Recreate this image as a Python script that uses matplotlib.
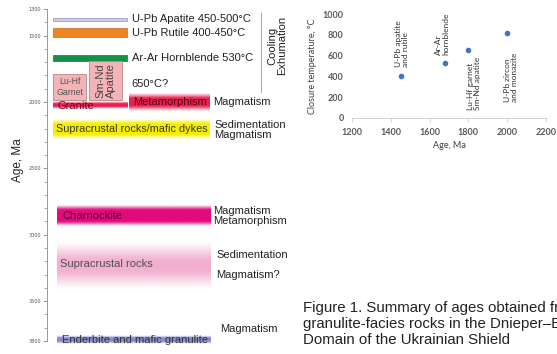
import numpy as np
import matplotlib
matplotlib.use("Agg")
import matplotlib.pyplot as plt
from matplotlib.colors import to_rgb
from matplotlib.patches import Rectangle

# ---- left panel: age chart (Ma) ----
cool_names = ["U-Pb Apatite 450-500°C", "U-Pb Rutile 400-450°C", "Ar-Ar Hornblende 530°C"]
cool_top = [1365, 1443, 1646]
cool_bot = [1392, 1511, 1692]
cool_colors = ["#cfcdeb", "#ef8522", "#14924a"]
cool_edges = ["#8f8fb5", "#c86a10", "#0c7a3a"]

box_names = ["Lu-Hf\nGarnet", "Sm-Nd\nApatite"]
box_top = [1789, 1692]
box_bot = [1985, 1985]

band_names = ["Granite", "Metamorphism", "Supracrustal rocks/mafic dykes",
              "Charnockite", "Supracrustal rocks", "Enderbite and mafic granulite"]
band_top = [1993, 1925, 2121, 2776, 3039, 3762]
band_bot = [2053, 2075, 2286, 2942, 3431, 3823]
band_colors = ["#e8204f", "#e8204f", "#f6ee00", "#e20a7c", "#f0a2c8", "#7c7ccc"]
band_text_colors = ["#7a0020", "#5c0018", "#3a3a10", "#4a0030", "#505050", "#333333"]

event_text = ["Magmatism", "Sedimentation\nMagmatism", "Magmatism\nMetamorphism",
              "Sedimentation\n\nMagmatism?", "Magmatism"]
event_age = [2000, 2211, 2858, 3228, 3710]

yticks_left = [1300, 1500, 2000, 2500, 3000, 3500, 3800]

# ---- right panel: closure temperature ----
ages = [1450, 1680, 1800, 2000]
temps = [400, 530, 650, 820]
point_labels = ["U-Pb apatite\nand rutile", "Ar-Ar\nhornblende",
                "Lu-Hf garnet\nSm-Nd apatite", "U-Pb zircon\nand monazite"]

fig = plt.figure(figsize=(5.57, 3.54), dpi=100)
fig.patch.set_facecolor("white")
lfont = "Liberation Sans"
fs = 8


def band(ax, x0, x1, top, bot, color, soft=0.6, peak=1.0):
    t = np.linspace(-1, 1, 80)
    a = np.clip((1 - np.abs(t)) / soft, 0, 1)
    a = peak * (a * a * (3 - 2 * a))
    img = np.zeros((80, 1, 4))
    img[..., :3] = to_rgb(color)
    img[..., 3] = a[:, None]
    ax.imshow(img, extent=(x0, x1, bot, top), aspect="auto", origin="upper",
              interpolation="bilinear", zorder=1, clip_on=False)


ax = fig.add_axes([47 / 557, 1 - 341 / 354, 243 / 557, 332 / 354])

# cooling bars
for top, bot, c, ec, name in zip(cool_top, cool_bot, cool_colors, cool_edges, cool_names):
    ax.add_patch(Rectangle((6, top), 74, bot - top, facecolor=c, edgecolor=ec, lw=0.5, zorder=2))
    ax.text(85, (top + bot) / 2, name, fontsize=fs, family=lfont, color="#222222",
            va="center", ha="left")

# Lu-Hf and Sm-Nd boxes
ax.add_patch(Rectangle((6, box_top[0]), 33, box_bot[0] - box_top[0], facecolor="#f4b3b6",
                       edgecolor="#b88888", lw=0.6, zorder=2))
ax.text(22.5, (box_top[0] + box_bot[0]) / 2, box_names[0], fontsize=6.3, family=lfont,
        color="#555555", ha="center", va="center", zorder=3)
ax.add_patch(Rectangle((42, box_top[1]), 33, box_bot[1] - box_top[1], facecolor="#f4b3b6",
                       edgecolor="#b88888", lw=0.6, zorder=2))
ax.text(58.5, (box_top[1] + box_bot[1]) / 2, box_names[1], fontsize=fs, family=lfont,
        color="#444444", ha="center", va="center", rotation=90, zorder=3, linespacing=1.0)
ax.text(84, 1865, "650°C?", fontsize=fs, family=lfont, color="#222222", va="center")

# gradient bands
band_x = [(6, 81), (82, 163), (6, 163), (10, 164), (10, 164), (10, 164)]
band_soft = [0.7, 0.7, 0.6, 0.55, 0.9, 0.7]
band_peak = [1.0, 1.0, 1.0, 1.0, 0.85, 0.9]
text_x = [10, 86, 9, 15, 13, 15]
text_y = [2033, 2000, 2203, 2859, 3220, 3792]
text_fs = [fs, fs, 7.8, fs, fs, fs]
for i, name in enumerate(band_names):
    band(ax, band_x[i][0], band_x[i][1], band_top[i], band_bot[i], band_colors[i],
         band_soft[i], band_peak[i])
    ax.text(text_x[i], text_y[i], name, fontsize=text_fs[i], family=lfont,
            color=band_text_colors[i], va="center", ha="left", zorder=3)

event_x = [166, 167, 166, 169, 173]
for x, y, s in zip(event_x, event_age, event_text):
    ax.text(x, y, s, fontsize=fs, family=lfont, color="#222222", va="center", ha="left",
            linespacing=1.0)

# cooling / exhumation bracket
ax.plot([214, 214], [1330, 1925], color="#aaaaaa", lw=0.8)
ax.text(230, 1575, "Cooling\nExhumation", rotation=90, fontsize=fs, family=lfont,
        color="#222222", ha="center", va="center", linespacing=1.0)

ax.set_xlim(0, 243)
ax.set_ylim(3800, 1300)
ax.set_yticks(yticks_left)
ax.set_yticks(np.arange(1300, 3801, 100), minor=True)
ax.tick_params(axis="y", which="major", labelsize=3.5, labelcolor="#555555", length=3,
               color="#888888", width=0.6, pad=1)
ax.tick_params(axis="y", which="minor", length=2, color="#888888", width=0.5)
ax.set_xticks([])
for s in ["top", "right", "bottom"]:
    ax.spines[s].set_visible(False)
ax.spines["left"].set_color("#888888")
ax.spines["left"].set_linewidth(0.6)
ax.patch.set_alpha(0)
fig.text(18 / 557, 1 - 160 / 354, "Age, Ma", rotation=90, fontsize=8.5, family=lfont,
         color="#222222", ha="center", va="center")

# ---- right panel ----
rfont = "Lato"
ax2 = fig.add_axes([352 / 557, 1 - 118 / 354, 194 / 557, 104 / 354])
ax2.scatter(ages, temps, s=9, color="#4472c4", zorder=3)
label_pos = [(1458, 490, "bottom"), (1664, 605, "bottom"), (1828, 590, "top"), (2018, 625, "top")]
for (x, y, va), s in zip(label_pos, point_labels):
    ax2.text(x, y, s, rotation=90, fontsize=6, family=rfont, color="#333333",
             ha="center", va=va, multialignment="left", linespacing=1.0)
ax2.set_xlim(1200, 2200)
ax2.set_ylim(0, 1000)
ax2.set_xticks(range(1200, 2201, 200))
ax2.set_yticks(range(0, 1001, 200))
ax2.tick_params(axis="x", labelsize=6.5, labelcolor="#595959", length=3, color="#d0d0d0",
                width=0.6, pad=4)
ax2.tick_params(axis="y", labelsize=6.5, labelcolor="#595959", length=0, pad=6)
for lbl in ax2.get_xticklabels() + ax2.get_yticklabels():
    lbl.set_family(rfont)
    lbl.set_fontweight("bold")
for s in ["top", "right", "left"]:
    ax2.spines[s].set_visible(False)
ax2.spines["bottom"].set_color("#d0d0d0")
ax2.spines["bottom"].set_linewidth(0.7)
ax2.set_xlabel("Age, Ma", fontsize=6.5, family=rfont, color="#404040", labelpad=3)
ax2.set_ylabel("Closure temperature, °C", fontsize=6.5, family=rfont, color="#404040",
               labelpad=4)

# caption (runs off the right edge, as in the source figure)
fig.text(303 / 557, 1 - 301 / 354,
         "Figure 1. Summary of ages obtained from\ngranulite-facies rocks in the Dnieper–Bug\n"
         "Domain of the Ukrainian Shield",
         fontsize=10.8, family=lfont, color="#222222", ha="left", va="top", linespacing=1.2)

fig.savefig("out.png", dpi=100, facecolor="white")
